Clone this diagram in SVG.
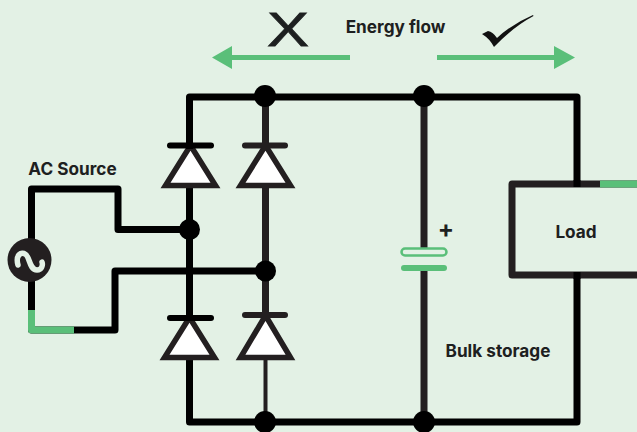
<svg xmlns="http://www.w3.org/2000/svg" width="637" height="432" viewBox="0 0 637 432">
<style>
text{font-family:"Inter","Liberation Sans",sans-serif;font-weight:700;fill:#1d2020;font-size:17.200px}
.k{fill:none;stroke:#000;stroke-width:7;stroke-linejoin:round}
.d{fill:none;stroke:#231f20;stroke-width:7;stroke-linejoin:round}
.thin{fill:none;stroke:#231f20;stroke-width:4}
.g{fill:none;stroke:#5abf79;stroke-width:7;stroke-linejoin:round}
.bar{stroke:#231f20;stroke-width:6;stroke-linecap:round;fill:none}
.bar0{stroke:#000;stroke-width:6;stroke-linecap:round;fill:none}
.tri{fill:#fff;stroke:#231f20;stroke-width:5.500;stroke-linejoin:miter}
.j{fill:#000}
.arr{stroke:#5abf79;stroke-width:5;fill:none}
.head{fill:#5abf79}
</style>
<rect width="637" height="432" fill="#e3f1e5"/>
<g id="connectors">
<path class="d" d="M265.500 97V320M424 97V250M424 268V422"/>
<path class="thin" d="M265.500 350V422"/>
<path class="k" d="M577 184V97H189.500V422H577V275"/>
<path class="k" d="M31.500 240V189H118V229.500H190"/>
<path class="k" d="M31.500 280V330H115V271H266"/>
<path class="g" d="M31.500 310V330H74"/>
<path class="d" d="M637 184H512V275H637"/>
<path class="g" d="M600 184H637"/>
<path class="k" d="M577 180V187M577 272V279"/>
<path class="arr" d="M350 57.500H230M437 57.500H556"/>
<path class="head" d="M212 57.500L232 46V69ZM575 57.500L554 46V69Z"/>
</g>
<g id="diode-top-left"><path class="tri" d="M190.500 145.500L165.500 185.500H215.500Z"/><path class="bar0" d="M170 145.500H211"/><path class="k" d="M189.500 140V149"/></g>
<g id="diode-top-right"><path class="tri" d="M265.500 145.500L240.500 185.500H290.500Z"/><path class="bar" d="M245 145.500H285"/><path class="d" d="M265.500 140V149"/></g>
<g id="diode-bottom-left"><path class="tri" d="M189.500 317.500L164.500 357.500H214.500Z"/><path class="bar0" d="M170 318H211"/><path class="k" d="M189.500 312V321"/></g>
<g id="diode-bottom-right"><path class="tri" d="M265.500 315.500L240.500 357.500H290.500Z"/><path class="bar" d="M245 315H285"/><path class="d" d="M265.500 310V319"/></g>
<g id="junctions">
<circle class="j" cx="189.500" cy="229.500" r="10.500"/>
<circle class="j" cx="265.500" cy="271" r="10.500"/>
<circle class="j" cx="265" cy="96" r="11"/>
<circle class="j" cx="424" cy="96" r="11"/>
<circle class="j" cx="265" cy="422" r="11"/>
<circle class="j" cx="424" cy="422" r="11"/>
</g>
<g id="source">
<circle cx="29.500" cy="260" r="22" fill="#231f20"/>
<path d="M18 265C15 254 22 252 25 254C30 256 29 270 37 270C42 270 43 265 42 262" fill="none" stroke="#e3f1e5" stroke-width="5.500" stroke-linecap="round"/>
<text x="72.500" y="175" text-anchor="middle">AC Source</text>
</g>
<g id="capacitor">
<rect x="401.500" y="248.500" width="45" height="7" rx="3.500" fill="#e3f1e5" stroke="#5abf79" stroke-width="2.500"/>
<rect x="401" y="265" width="46" height="6" rx="3" fill="#5abf79"/>
<text x="446" y="237" text-anchor="middle" style="font-size:24px">+</text>
<text x="498" y="357" text-anchor="middle">Bulk storage</text>
</g>
<g id="load"><text x="576" y="238" text-anchor="middle">Load</text></g>
<g id="labels">
<text x="395.500" y="33" text-anchor="middle">Energy flow</text>
<text x="267" y="46" textLength="42" lengthAdjust="spacingAndGlyphs" style="font-family:'Liberation Sans',sans-serif;font-size:48px;font-weight:400;stroke:#1d2020;stroke-width:.8">X</text>
<path d="M482 34L488 31Q493 32 497 38Q512 24 533 15L533.500 16Q513 27 494 47Q490 39 482 34Z" fill="#111"/>
</g>
</svg>
